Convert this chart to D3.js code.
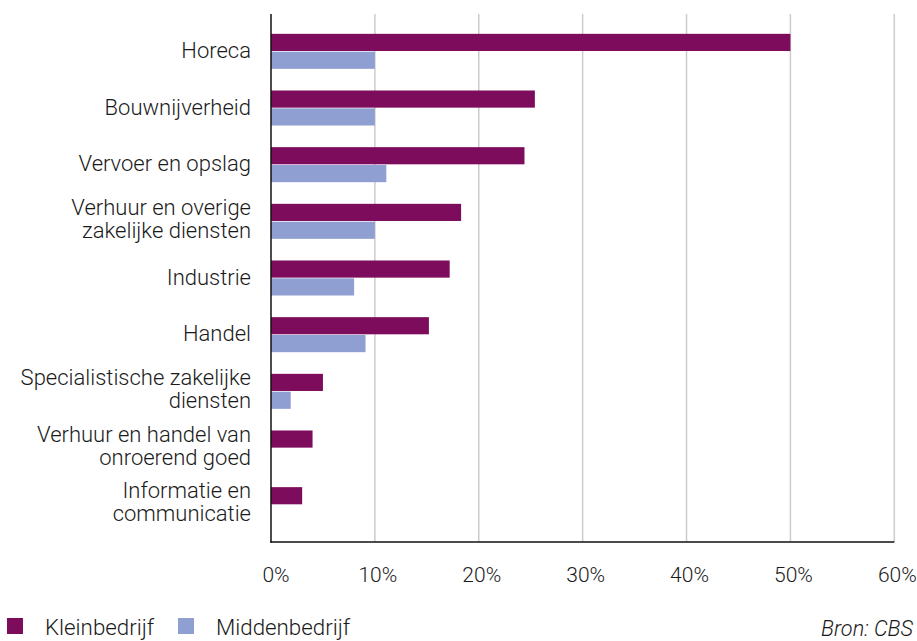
<!DOCTYPE html>
<html><head><meta charset="utf-8">
<script src="https://cdn.jsdelivr.net/npm/d3@7"></script>
<style>
body{margin:0;background:#fff;}
text{font-family:Roboto, "Noto Sans", sans-serif;font-weight:300;fill:#1a1a1a;}
</style></head>
<body>
<svg id="c" width="917" height="641"></svg>
<script>
const categories = [
  ["Horeca"],
  ["Bouwnijverheid"],
  ["Vervoer en opslag"],
  ["Verhuur en overige","zakelijke diensten"],
  ["Industrie"],
  ["Handel"],
  ["Specialistische zakelijke","diensten"],
  ["Verhuur en handel van","onroerend goed"],
  ["Informatie en","communicatie"]
];
const kleinbedrijf = [50, 25.4, 24.4, 18.3, 17.2, 15.2, 5.0, 4.0, 3.0];
const middenbedrijf = [10, 10, 11.1, 10, 8.0, 9.1, 1.9, 0, 0];
const seriesNames = ["Kleinbedrijf", "Middenbedrijf"];
const tickValues = [0, 10, 20, 30, 40, 50, 60];
const colors = ["#7d0c5c", "#8f9fd2"];

const svg = d3.select("#c");
const pLeft = 271, pRight = 894.3, pTop = 14, pBottom = 542;
const x = d3.scaleLinear().domain([0, 60]).range([pLeft, pRight]);
const y = d3.scaleBand().domain(d3.range(categories.length)).range([pTop, pBottom])
  .paddingInner(0.382).paddingOuter(0.35);
const ySub = d3.scaleBand().domain([0, 1]).range([0, y.bandwidth()]).paddingInner(0.04);

// gridlines
svg.append("g").selectAll("line").data(tickValues.slice(1)).join("line")
  .attr("x1", d => x(d)).attr("x2", d => x(d))
  .attr("y1", pTop).attr("y2", pBottom)
  .attr("stroke", "#cccccc").attr("stroke-width", 1.5);

// bars
const series = [kleinbedrijf, middenbedrijf];
series.forEach((vals, si) => {
  svg.append("g").selectAll("rect").data(vals).join("rect")
    .attr("x", x(0))
    .attr("y", (d, i) => y(i) + ySub(si))
    .attr("width", d => x(d) - x(0))
    .attr("height", ySub.bandwidth())
    .attr("fill", colors[si]);
});

// axes lines
svg.append("line").attr("x1", pLeft).attr("x2", pLeft).attr("y1", pTop).attr("y2", pBottom + 0.75)
  .attr("stroke", "#111").attr("stroke-width", 1.5);
svg.append("line").attr("x1", pLeft - 0.75).attr("x2", pRight).attr("y1", pBottom).attr("y2", pBottom)
  .attr("stroke", "#111").attr("stroke-width", 1.5);

// x tick labels
svg.append("g").selectAll("text").data(tickValues).join("text")
  .attr("x", d => x(d) + (d === 0 ? 5 : 3))
  .attr("y", 582)
  .attr("text-anchor", "middle")
  .attr("font-size", 21)
  .text(d => d + "%");

// category labels
const lh = 23;
const cl = svg.append("g").selectAll("text").data(categories).join("text")
  .attr("text-anchor", "end")
  .attr("font-size", 22);
cl.each(function(lines, i) {
  const cy = y(i) + y.bandwidth() / 2;
  const n = lines.length;
  d3.select(this).selectAll("tspan").data(lines).join("tspan")
    .attr("x", 251)
    .attr("y", (l, j) => cy - 1 + (j - (n - 1) / 2) * lh - (n > 1 ? 1.5 : 0))
    .attr("dy", "0.35em")
    .text(l => l);
});

// legend
const legX = [7, 178];
seriesNames.forEach((name, i) => {
  svg.append("rect").attr("x", legX[i]).attr("y", 618).attr("width", 16).attr("height", 16).attr("fill", colors[i]);
  svg.append("text").attr("x", legX[i] + 38).attr("y", 635).attr("font-size", 22.3).text(name);
});
svg.append("text").attr("x", 913).attr("y", 636).attr("text-anchor", "end")
  .attr("font-size", 21.7).attr("font-style", "italic").text("Bron: CBS");
</script>
</body></html>
